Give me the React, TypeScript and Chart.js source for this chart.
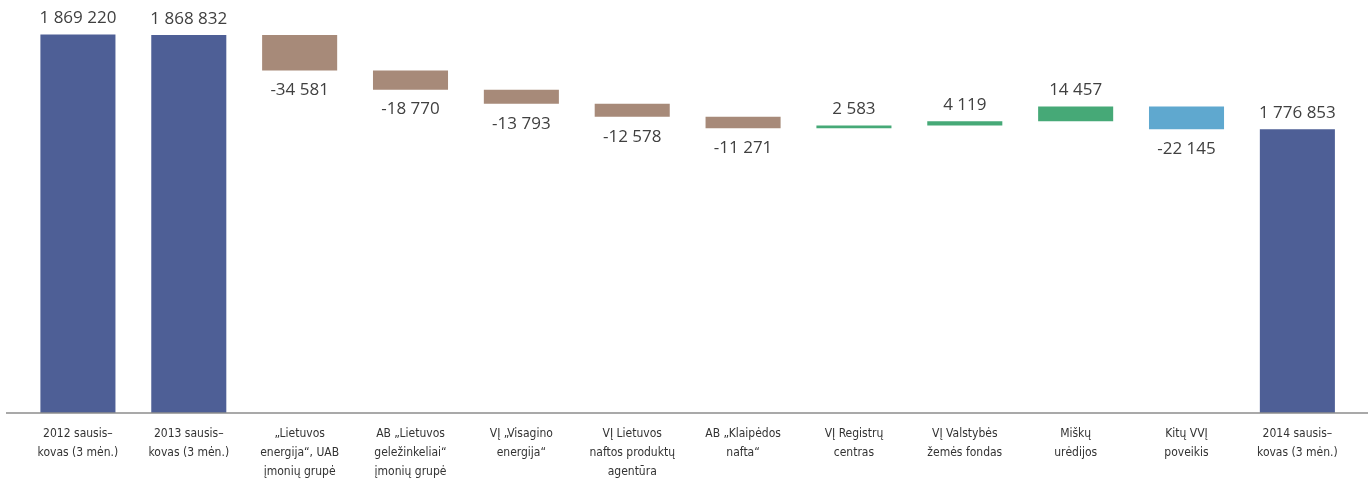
import React, { useEffect, useRef } from "react";
import { Chart, registerables } from "chart.js";

Chart.register(...registerables);

const categories: string[][] = [
  ["2012 sausis–", "kovas (3 mėn.)"],
  ["2013 sausis–", "kovas (3 mėn.)"],
  ["„Lietuvos", "energija“, UAB", "įmonių grupė"],
  ["AB „Lietuvos", "geležinkeliai“", "įmonių grupė"],
  ["VĮ „Visagino", "energija“"],
  ["VĮ Lietuvos", "naftos produktų", "agentūra"],
  ["AB „Klaipėdos", "nafta“"],
  ["VĮ Registrų", "centras"],
  ["VĮ Valstybės", "žemės fondas"],
  ["Miškų", "urėdijos"],
  ["Kitų VVĮ", "poveikis"],
  ["2014 sausis–", "kovas (3 mėn.)"],
];

// Totals (null where the bar is a change)
const totals: (number | null)[] = [1869220, 1868832, null, null, null, null, null, null, null, null, null, 1776853];
// Changes (null where the bar is a total)
const changes: (number | null)[] = [null, null, -34581, -18770, -13793, -12578, -11271, 2583, 4119, 14457, -22145, null];

const barColors: string[] = [
  "#4E5F96", "#4E5F96",
  "#A78A79", "#A78A79", "#A78A79", "#A78A79", "#A78A79",
  "#46A977", "#46A977", "#46A977",
  "#5FA8CF",
  "#4E5F96",
];

const axisMin = 1500000;
const axisMax = 1900000;

function fmt(v: number): string {
  const s = Math.abs(Math.round(v)).toString().replace(/\B(?=(\d{3})+(?!\d))/g, " ");
  return (v < 0 ? "-" : "") + s;
}

function buildRanges(): [number, number][] {
  const out: [number, number][] = [];
  let running = 0;
  for (let i = 0; i < categories.length; i++) {
    const t = totals[i];
    const c = changes[i];
    if (t !== null && t !== undefined) {
      out.push([axisMin, t]);
      running = t;
    } else {
      const d = c as number;
      const start = running;
      const end = running + d;
      out.push([start, end]);
      running = end;
    }
  }
  return out;
}

function labelValue(i: number): number {
  const t = totals[i];
  return t !== null && t !== undefined ? t : (changes[i] as number);
}

const valueLabels = {
  id: "valueLabels",
  afterDatasetsDraw(chart: any) {
    const ctx = chart.ctx;
    const meta = chart.getDatasetMeta(0);
    ctx.save();
    ctx.font = "17px 'Open Sans', sans-serif";
    ctx.fillStyle = "#404040";
    ctx.textAlign = "center";
    ctx.textBaseline = "middle";
    meta.data.forEach((el: any, i: number) => {
      const v = labelValue(i);
      const top = Math.min(el.y, el.base);
      const bottom = Math.max(el.y, el.base);
      const isTotal = totals[i] !== null && totals[i] !== undefined;
      if (isTotal || v >= 0) {
        ctx.fillText(fmt(v), el.x, top - 16);
      } else {
        ctx.fillText(fmt(v), el.x, bottom + 20);
      }
    });
    ctx.restore();
  },
};

const axisLine = {
  id: "axisLine",
  afterDatasetsDraw(chart: any) {
    const ctx = chart.ctx;
    const y = chart.scales.y.getPixelForValue(axisMin);
    ctx.save();
    ctx.strokeStyle = "#8C8C8C";
    ctx.lineWidth = 1.5;
    ctx.beginPath();
    ctx.moveTo(6, y);
    ctx.lineTo(1368, y);
    ctx.stroke();
    ctx.restore();
  },
};

export default function App() {
  const ref = useRef<HTMLCanvasElement | null>(null);
  useEffect(() => {
    if (!ref.current) return;
    const chart = new Chart(ref.current, {
      type: "bar",
      data: {
        labels: categories,
        datasets: [
          {
            data: buildRanges() as any,
            backgroundColor: barColors,
            borderWidth: 0,
            borderSkipped: false,
            barPercentage: 0.677,
            categoryPercentage: 1,
          },
        ],
      },
      options: {
        animation: false,
        responsive: false,
        maintainAspectRatio: false,
        layout: { padding: { top: 3, left: 22.5, right: 17.2, bottom: 0 } },
        plugins: {
          legend: { display: false },
          tooltip: { enabled: false },
          title: { display: false },
        },
        scales: {
          x: {
            grid: { display: false, drawTicks: false },
            border: { display: false },
            ticks: {
              autoSkip: false,
              maxRotation: 0,
              minRotation: 0,
              padding: 11,
              color: "#333333",
              font: {
                family: "'Liberation Sans Narrow', 'DejaVu Sans Condensed', 'Roboto', sans-serif",
                size: 12,
                lineHeight: "19px",
              },
            },
          },
          y: {
            display: false,
            min: axisMin,
            max: axisMax,
          },
        },
      },
      plugins: [valueLabels, axisLine],
    });
    return () => chart.destroy();
  }, []);
  return (
    <div style={{ position: "fixed", left: 0, top: 0, width: 1370, height: 478, overflow: "hidden", background: "#fff" }}>
      <canvas ref={ref} width={1370} height={492} style={{ display: "block" }} />
    </div>
  );
}
